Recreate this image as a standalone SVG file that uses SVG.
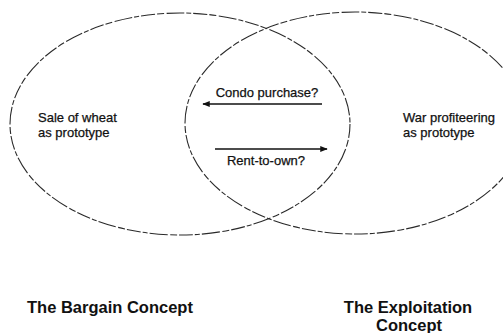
<svg xmlns="http://www.w3.org/2000/svg" width="503" height="333" viewBox="0 0 503 333">
<style>
.ring{fill:none;stroke:#2a2a2a;stroke-width:1.1;stroke-dasharray:14 2 7 2.5 18 2 5 2}
.lbl{font-family:"Liberation Sans",Arial,sans-serif;font-size:13px;fill:#111;stroke:#111;stroke-width:0.25}
.ttl{font-family:"Liberation Sans",Arial,sans-serif;font-size:16.5px;font-weight:bold;fill:#111}
.arr{stroke:#111;stroke-width:1.5;fill:none;marker-end:url(#ah)}
</style>
<defs>
<marker id="ah" viewBox="0 0 10 10" refX="9" refY="5" markerWidth="5" markerHeight="5" orient="auto" markerUnits="strokeWidth">
<path d="M0,1 L10,5 L0,9 z" fill="#111"/>
</marker>
</defs>
<rect width="503" height="333" fill="#fff"/>
<g id="bargain">
<ellipse class="ring" cx="180" cy="124" rx="170" ry="111"/>
<text class="lbl" x="38" y="122">Sale of wheat</text>
<text class="lbl" x="38" y="137">as prototype</text>
<text class="ttl" x="27" y="313">The Bargain Concept</text>
</g>
<g id="exploitation">
<ellipse class="ring" cx="355" cy="123" rx="170" ry="111"/>
<text class="lbl" x="403" y="122">War profiteering</text>
<text class="lbl" x="403" y="137">as prototype</text>
<text class="ttl" x="408" y="313" text-anchor="middle">The Exploitation</text>
<text class="ttl" x="409" y="331" text-anchor="middle">Concept</text>
</g>
<g id="condo">
<text class="lbl" x="267" y="97" text-anchor="middle">Condo purchase?</text>
</g>
<g id="rent">
<text class="lbl" x="266" y="165" text-anchor="middle">Rent-to-own?</text>
</g>
<g id="connectors">
<line class="arr" x1="322" y1="104" x2="203" y2="104"/>
<line class="arr" x1="215" y1="149" x2="327" y2="149"/>
</g>
</svg>
